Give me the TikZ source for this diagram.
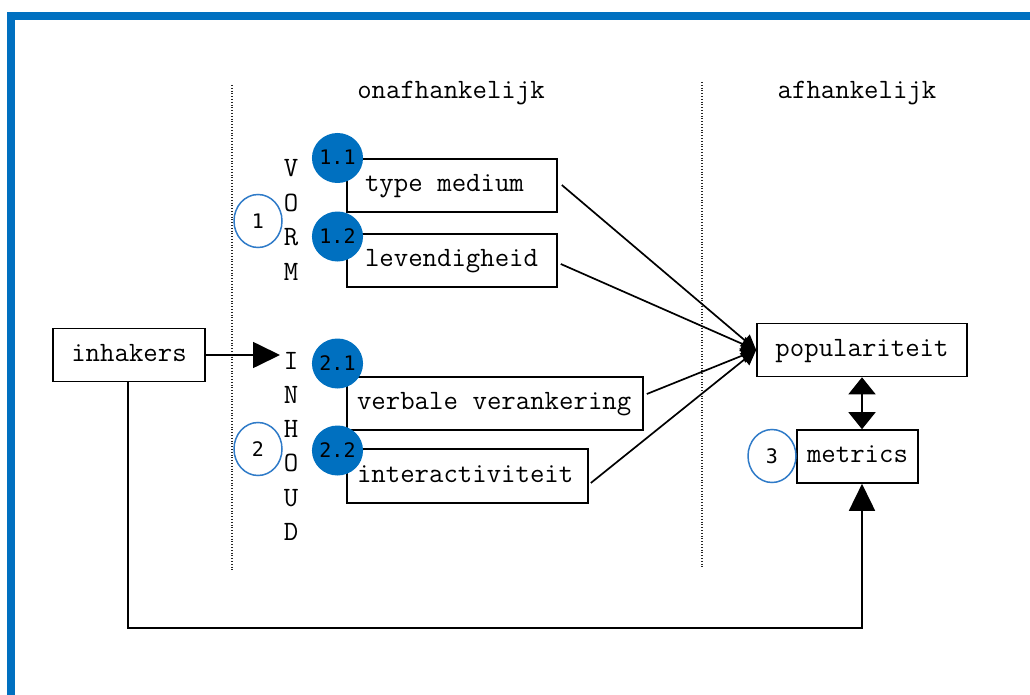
\documentclass[tikz,border=0pt]{standalone}
\usepackage{fontspec}
\newfontfamily\numfont{DejaVu Sans Mono}
\usetikzlibrary{arrows.meta,shapes.geometric}
\definecolor{frameblue}{HTML}{0070C0}
\definecolor{ringblue}{HTML}{2F7BC8}
\newcommand\labelmono{\fontsize{28}{32}\selectfont\ttfamily}
\newcommand\badgemono{\fontsize{20}{22}\selectfont\numfont}
% one full character cell between words
\newcommand\monospace{\spaceskip 14.7pt\relax \xspaceskip 14.7pt\relax}

\begin{document}
\begin{tikzpicture}[x=1pt,y=-1pt,
  mono/.style={font=\labelmono, inner sep=0pt, execute at begin node=\monospace},
  box/.style={mono, draw, line width=1.6pt, minimum height=53pt,
    inner ysep=0pt, text height=12pt, text depth=0pt},
  badge/.style={ellipse, fill=frameblue, minimum width=47pt, minimum height=50pt,
    inner sep=0pt, font=\badgemono, text height=14pt, text depth=0pt},
  ring/.style={ellipse, draw=ringblue, line width=1.5pt, minimum width=48pt,
    minimum height=53pt, inner sep=0pt, font=\badgemono,
    text height=14pt, text depth=0pt},
  conn/.style={line width=1.7pt},
  bigtip/.tip={Triangle[length=27pt,width=26pt]},
  midtip/.tip={Triangle[length=17pt,width=27pt]},
  smalltip/.tip={Triangle[length=15pt,width=15pt]},
  sep/.style={line width=1.1pt, dash pattern=on 1pt off 1.8pt, black!85}
]
\useasboundingbox (0,0) rectangle (1030,695);

% outer frame, open to the right and bottom
\begin{scope}
  \clip (0,0) rectangle (1030,695);
  \draw[frameblue, line width=8pt] (11,16) rectangle (1050,720);
\end{scope}

% column separators
\draw[sep] (232,85) -- (232,570);
\draw[sep] (702,82) -- (702,567);

% column headers
\node[mono, anchor=base] (hdrIndep) at (451,99) {onafhankelijk};
\node[mono, anchor=base] (hdrDep) at (857,99) {afhankelijk};

% vertical group words
\foreach \ch [count=\k] in {V,O,R,M}
  \node[mono, anchor=base] (vorm\k) at (291,{177+34.4*(\k-1)}) {\ch};
\foreach \ch [count=\k] in {I,N,H,O,U,D}
  \node[mono, anchor=base] (inhoud\k) at (291,{369+34.3*(\k-1)}) {\ch};

% boxes (left-set text)
\node[box, text width=174pt, inner xsep=18pt] (tm) at (452,185.5) {type medium};
\node[box, text width=174pt, inner xsep=18pt] (lv) at (452,260.5) {levendigheid};
\node[box, text width=276pt, inner xsep=10pt] (vv) at (495,403.5) {verbale verankering};
\node[box, text width=221pt, inner xsep=10pt, minimum height=54pt] (ia) at (467.5,476) {interactiviteit};
\node[box, minimum width=152pt] (inh) at (129,355) {inhakers};
\node[box, minimum width=210pt] (pop) at (862,350) {populariteit};
\node[box, minimum width=121pt] (met) at (857.5,456.5) {metrics};

% numbered badges
\node[badge] (b11) at (337.5,158) {1.1};
\node[badge] (b12) at (337.5,236.5) {1.2};
\node[badge] (b21) at (337.5,363.5) {2.1};
\node[badge] (b22) at (337.5,450.5) {2.2};
\node[ring] (r1) at (258,221) {1};
\node[ring] (r2) at (258,449) {2};
\node[ring] (r3) at (772,456) {3};

% connectors
\coordinate (inTip) at (280,355);
\draw[conn, -bigtip] (inh.east) -- (inTip);

\draw[conn, -smalltip] ([shift={(4,-0.5)}]tm.east) -- (pop.west);
\draw[conn, -smalltip] ([shift={(3,3.5)}]lv.east) -- (pop.west);
\draw[conn, -smalltip] ([shift={(3,-9.5)}]vv.east) -- (pop.west);
\draw[conn, -smalltip] ([shift={(2,7)}]ia.east) -- (pop.west);

\draw[conn, midtip-midtip] (pop.south) -- (pop.south |- met.north);

\coordinate (loopLow) at (128,628);
\draw[conn, -bigtip] ([xshift=-1pt]inh.south) -- (loopLow) -| (pop.south |- met.south);
\end{tikzpicture}
\end{document}
